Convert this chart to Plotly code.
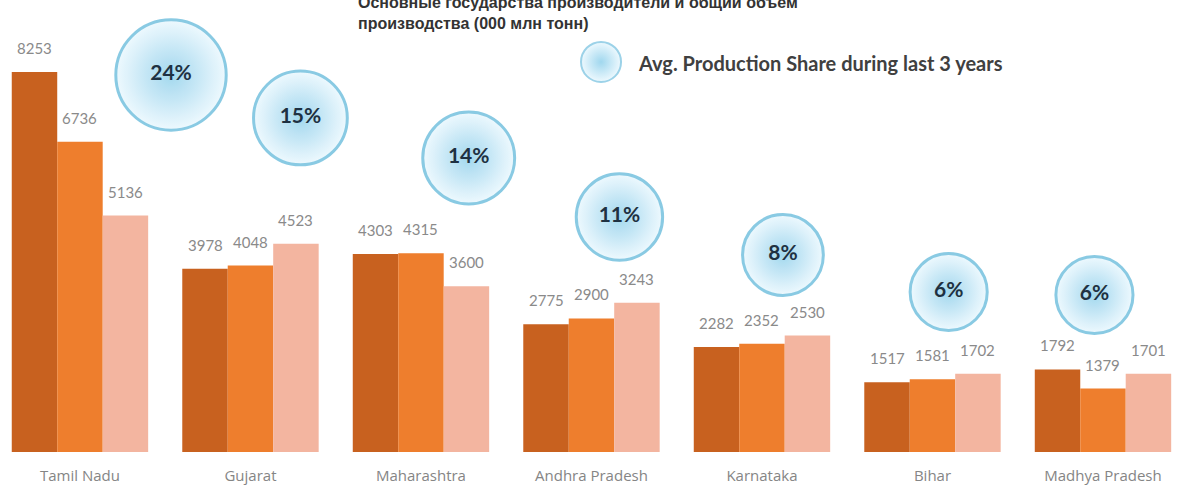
import plotly.graph_objects as go

# Production by state for the last three years (000 mln tonnes)
states = ["Tamil Nadu", "Gujarat", "Maharashtra", "Andhra Pradesh",
          "Karnataka", "Bihar", "Madhya Pradesh"]
year1 = [8253, 3978, 4303, 2775, 2282, 1517, 1792]
year2 = [6736, 4048, 4315, 2900, 2352, 1581, 1379]
year3 = [5136, 4523, 3600, 3243, 2530, 1702, 1701]
# average production share over the same period, %
share = [24, 15, 14, 11, 8, 6, 6]

# bubble placement: offset from the category centre and height in axis units
bubble_dx = [0.534, 0.293, 0.28, 0.164, 0.123, 0.095, -0.05]
bubble_y = [8188, 7255, 6386, 5104, 4279, 3475, 3410]

bar_colors = ["#C8611F", "#EE7E2D", "#F3B5A0"]
label_color = "#8A8A8A"
n = len(states)
xs = list(range(n))
series = [year1, year2, year3]
bar_w = 0.8 / 3

fig = go.Figure()
for k, vals in enumerate(series):
    fig.add_trace(go.Bar(
        x=xs, y=vals, name=f"Year {k + 1}",
        marker=dict(color=bar_colors[k], line=dict(width=0)),
        showlegend=False, hoverinfo="y",
    ))

# value labels above each bar
for k, vals in enumerate(series):
    for i, v in enumerate(vals):
        fig.add_annotation(
            x=i + (k - 1) * bar_w, y=v, text=str(v), showarrow=False,
            yanchor="middle", yshift=24,
            font=dict(family="Lato", size=15, color=label_color),
        )

# share bubbles
fig.add_trace(go.Scatter(
    x=[i + d for i, d in zip(xs, bubble_dx)], y=bubble_y,
    mode="markers+text",
    text=[f"{s}%" for s in share], textposition="middle center",
    textfont=dict(family="Lato", size=21, color="#1E3142", weight="bold"),
    marker=dict(
        size=[66 + 1.85 * s for s in share],
        color="#EEF9FE",
        gradient=dict(type="radial", color="#A0D7EE"),
        line=dict(color="#86C9E3", width=3),
        opacity=0.97,
    ),
    showlegend=False, hoverinfo="text",
))

# legend bubble
fig.add_trace(go.Scatter(
    x=[3.056], y=[8471], mode="markers",
    marker=dict(size=40, color="#EEF9FE",
                gradient=dict(type="radial", color="#A0D7EE"),
                line=dict(color="#9CD2E8", width=2)),
    showlegend=False, hoverinfo="skip",
))
fig.add_annotation(
    xref="paper", yref="paper", x=636 / 1178, y=(452 - 63) / 452,
    xanchor="left", yanchor="middle", showarrow=False,
    text="Avg. Production Share during last 3 years",
    font=dict(family="Lato", size=20, color="#404040", weight="bold"),
)

# title
fig.add_annotation(
    xref="paper", yref="paper", x=356 / 1178, y=(452 + 8) / 452,
    xanchor="left", yanchor="top", align="left", showarrow=False,
    text="Основные государства производители и общий объем<br>производства (000 млн тонн)",
    font=dict(family="Liberation Sans", size=16, color="#333333", weight="bold"),
)

fig.update_layout(
    width=1178, height=486,
    margin=dict(l=0, r=0, t=0, b=34),
    paper_bgcolor="white", plot_bgcolor="white",
    barmode="group", bargap=0.2, bargroupgap=0,
    xaxis=dict(
        range=[-0.469, 6.44], tickvals=xs, ticktext=states,
        showgrid=False, zeroline=False, showline=False, ticks="",
        tickfont=dict(family="Open Sans", size=15, color="#858585"),
        ticklabelstandoff=13,
    ),
    yaxis=dict(range=[0, 9817], visible=False, fixedrange=True),
)

fig.write_html("out.html")
